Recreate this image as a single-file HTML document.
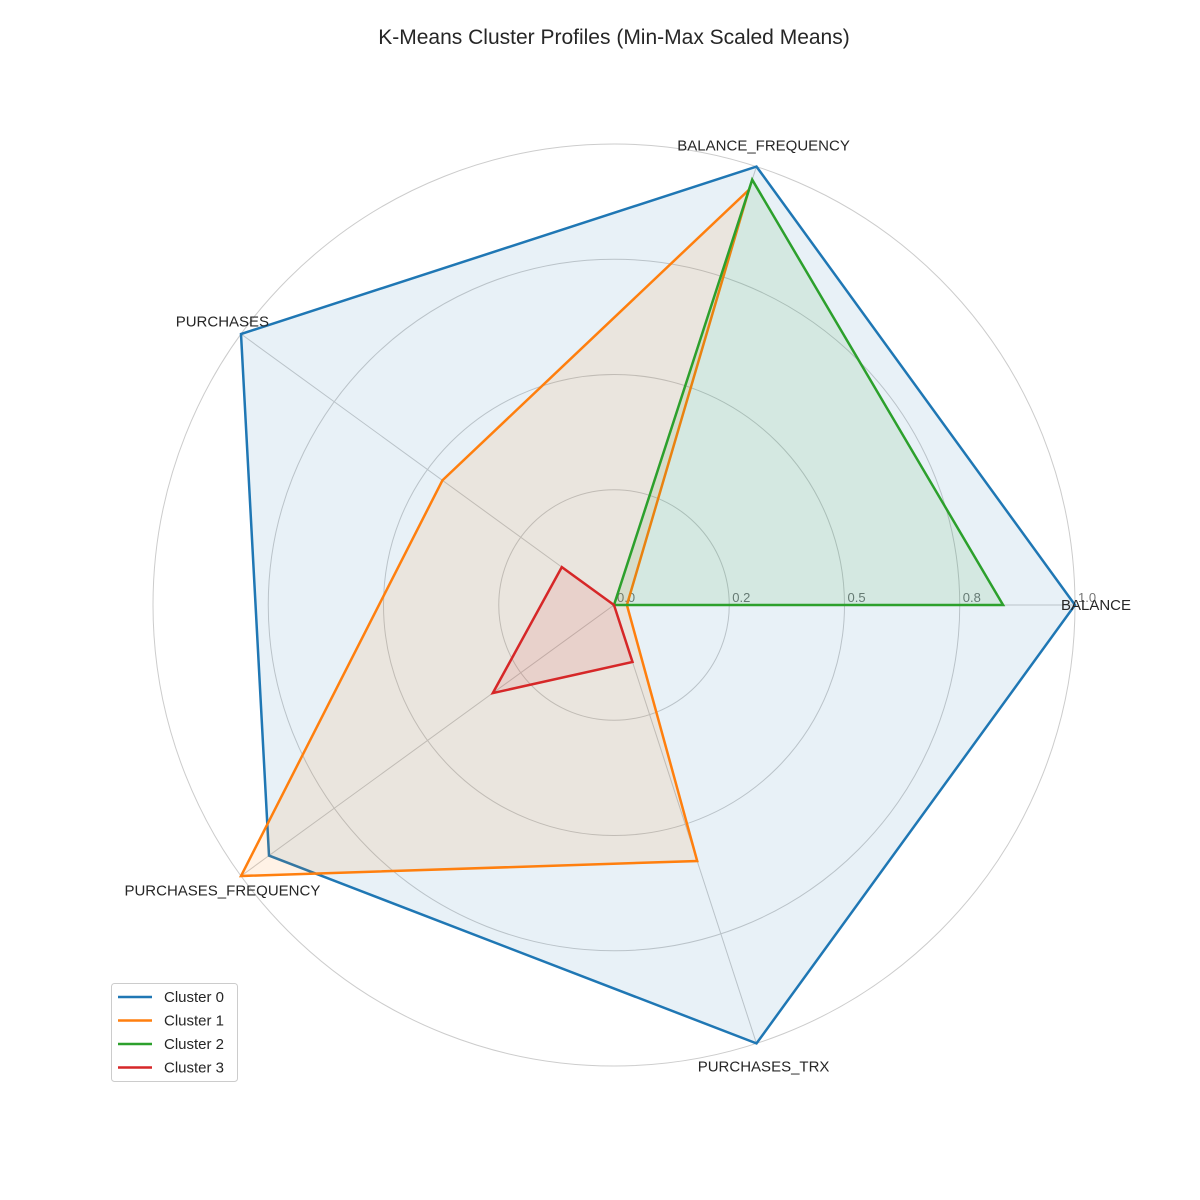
<!DOCTYPE html>
<html><head><meta charset="utf-8"><style>
body{margin:0;background:#fff;}
svg{display:block;font-family:"Liberation Sans","DejaVu Sans",sans-serif;}
</style></head><body>
<svg id="chart" width="1200" height="1200">
<text x="614" y="44" text-anchor="middle" font-size="21" fill="#262626">K-Means Cluster Profiles (Min-Max Scaled Means)</text>
</svg>
<script>
const categories=["BALANCE","BALANCE_FREQUENCY","PURCHASES","PURCHASES_FREQUENCY","PURCHASES_TRX"];
const seriesNames=["Cluster 0","Cluster 1","Cluster 2","Cluster 3"];
const cluster0=[1.0,1.0,1.0,0.925,1.0];
const cluster1=[0.028,0.947,0.46,1.0,0.584];
const cluster2=[0.844,0.97,0.0,0.0,0.0];
const cluster3=[0.0,0.0,0.14,0.325,0.13];
const seriesValues=[cluster0,cluster1,cluster2,cluster3];
const gridValues=[0.25,0.5,0.75,1.0];
const tickLabels=["0.0","0.2","0.5","0.8","1.0"];
const tickValues=[0,0.25,0.5,0.75,1.0];
const colors=["#1f77b4","#ff7f0e","#2ca02c","#d62728"];

const NS="http://www.w3.org/2000/svg";
const svg=document.getElementById('chart');
const cx=614,cy=605,R=461;
function ang(i){return i*2*Math.PI/categories.length;}
function px(v,i){return cx+R*v*Math.cos(ang(i));}
function py(v,i){return cy-R*v*Math.sin(ang(i));}
function mk(tag,attrs){const e=document.createElementNS(NS,tag);for(const k in attrs)e.setAttribute(k,attrs[k]);svg.appendChild(e);return e;}

gridValues.forEach((g,j)=>{
  const c=mk('circle',{cx:cx,cy:cy,r:R*g,fill:'none',stroke:'#cccccc','stroke-width':1});
  
  
});
categories.forEach((c,i)=>{
  const l=mk('line',{x1:cx,y1:cy,x2:px(1,i),y2:py(1,i),stroke:'#cccccc','stroke-width':1});
  
  
});
tickValues.forEach((t,j)=>{
  const e=mk('text',{x:cx+R*t+3,y:cy-3,'font-size':13,fill:'#777','text-anchor':'start'});
  e.textContent=tickLabels[j];
  
  
});
seriesValues.forEach((vals,s)=>{
  const pts=vals.map((v,i)=>px(v,i).toFixed(1)+','+py(v,i).toFixed(1)).join(' ');
  const f=mk('polygon',{points:pts,fill:colors[s],'fill-opacity':0.1,stroke:'none'});
  
  
  const p=mk('polygon',{points:pts,fill:'none',stroke:colors[s],'stroke-width':2.5,'stroke-linejoin':'miter'});
  
  
});
categories.forEach((c,i)=>{
  const a=ang(i),r=R*1.05;
  let x=cx+r*Math.cos(a),y=cy-r*Math.sin(a)+6;
  if(i===0){x=1096;y=610;}
  const e=mk('text',{x:x,y:y,'font-size':15,fill:'#262626','text-anchor':'middle'});
  e.textContent=c;
  
  
});
// legend
const lb=mk('rect',{x:111.5,y:983.5,width:126,height:98,rx:3,fill:'#fff','fill-opacity':0.8,stroke:'#cccccc'});


seriesNames.forEach((n,s)=>{
  const y=997+s*23.5;
  const l=mk('line',{x1:118,y1:y,x2:152,y2:y,stroke:colors[s],'stroke-width':2.5});
  
  
  const t=mk('text',{x:164,y:y+5,'font-size':15,fill:'#262626'});
  t.textContent=n;
  
  
});
</script>
</body></html>
